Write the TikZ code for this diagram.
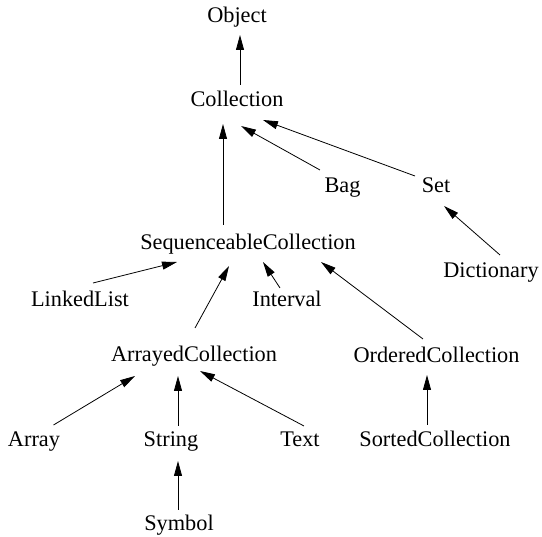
\documentclass[tikz,border=0pt]{standalone}
\usepackage{fontspec}
\setmainfont{Liberation Serif}
\usetikzlibrary{arrows.meta,calc}

\begin{document}
\begin{tikzpicture}[x=1pt,y=-1pt,
  cls/.style={anchor=base,inner sep=0pt,font=\fontsize{22.3}{26}\selectfont},
  isa/.style={line width=0.8pt,-{Triangle[length=15pt,width=8pt]}}]
\useasboundingbox (0,0) rectangle (542,537);

% class names, placed on their baselines
\node[cls] (obj)   at (237,23)    {Object};
\node[cls] (coll)  at (237,107)   {Collection};
\node[cls] (bag)   at (342.5,193) {Bag};
\node[cls] (set)   at (436,193)   {Set};
\node[cls] (seq)   at (248,250)   {SequenceableCollection};
\node[cls] (dict)  at (491,278)   {Dictionary};
\node[cls] (ll)    at (80,307)    {LinkedList};
\node[cls] (intv)  at (287,307)   {Interval};
\node[cls] (arr)   at (194,362)   {ArrayedCollection};
\node[cls] (ord)   at (436.5,363) {OrderedCollection};
\node[cls] (array) at (34,447)    {Array};
\node[cls] (str)   at (171,447)   {String};
\node[cls] (text)  at (300,447)   {Text};
\node[cls] (sort)  at (435,447)   {SortedCollection};
\node[cls] (sym)   at (179,531)   {Symbol};

% subclass -> superclass links
\draw[isa] ($(coll.base)+(3,-22)$)    -- ($(obj.base)+(3,12)$);
\draw[isa] ($(seq.base)+(-25,-25)$)   -- ($(coll.base)+(-14,17)$);
\draw[isa] ($(bag.base)+(-22.5,-23)$) -- ($(coll.base)+(4,19)$);
\draw[isa] ($(set.base)+(-21,-17)$)   -- ($(coll.base)+(26,13)$);
\draw[isa] ($(dict.base)+(9,-23)$)    -- ($(set.base)+(8,13)$);
\draw[isa] ($(ll.base)+(13,-24)$)     -- ($(seq.base)+(-71,12)$);
\draw[isa] ($(intv.base)+(-7,-19)$)   -- ($(seq.base)+(15,12)$);
\draw[isa] ($(arr.base)+(1,-34)$)     -- ($(seq.base)+(-19,16)$);
\draw[isa] ($(ord.base)+(-13.5,-24)$) -- ($(seq.base)+(73,12)$);
\draw[isa] ($(array.base)+(19.5,-22)$) -- ($(arr.base)+(-59,14)$);
\draw[isa] ($(str.base)+(7,-21)$)     -- ($(arr.base)+(-16,14)$);
\draw[isa] ($(text.base)+(4,-21)$)    -- ($(arr.base)+(6,9)$);
\draw[isa] ($(sort.base)+(-8,-22)$)   -- ($(ord.base)+(-9.5,12)$);
\draw[isa] ($(sym.base)+(-1,-21)$)    -- ($(str.base)+(7,14)$);
\end{tikzpicture}
\end{document}
